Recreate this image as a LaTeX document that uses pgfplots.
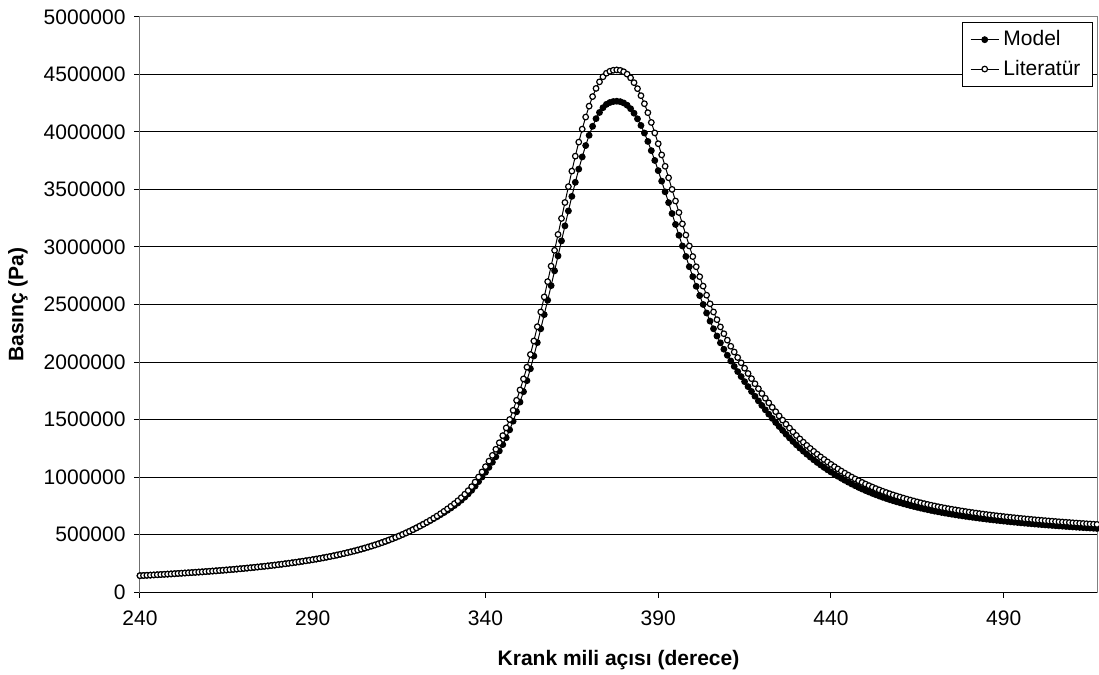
\documentclass[border=0pt]{standalone}
\usepackage{fontspec}
\setmainfont{Liberation Sans}
\usepackage{pgfplots}
\usepackage{pgfplotstable}
\pgfplotsset{compat=1.18}
\pgfplotstableread{
deg M L
240 142000 142000
241 143600 143600
242 145200 145200
243 146800 146800
244 148500 148500
245 150200 150200
246 151900 151900
247 153700 153700
248 155500 155500
249 157300 157300
250 159200 159200
251 161100 161100
252 163000 163000
253 165000 165000
254 167000 167000
255 169000 169000
256 171100 171100
257 173200 173200
258 175300 175300
259 177500 177500
260 179700 179700
261 182000 182000
262 184300 184300
263 186700 186700
264 189100 189100
265 191600 191600
266 194100 194100
267 196700 196700
268 199400 199400
269 202100 202100
270 204900 204900
271 207800 207800
272 210800 210800
273 213900 213900
274 217000 217000
275 220200 220200
276 223500 223500
277 226900 226900
278 230400 230400
279 234000 234000
280 237700 237700
281 241500 241500
282 245400 245400
283 249400 249400
284 253600 253600
285 257900 257900
286 262300 262300
287 266800 266800
288 271500 271500
289 276300 276300
290 281200 281200
291 286300 286300
292 291600 291600
293 297100 297100
294 302800 302800
295 308700 308700
296 314800 314800
297 321200 321200
298 327800 327800
299 334600 334600
300 341700 341700
301 349100 349100
302 356700 356700
303 364700 364700
304 372900 372900
305 381400 381400
306 390300 390300
307 399500 399500
308 409100 409100
309 419000 419000
310 429300 429300
311 440100 440100
312 451200 451200
313 462800 462800
314 474800 474800
315 487300 487300
316 500300 500300
317 513800 513800
318 527800 527800
319 542300 542300
320 557400 557400
321 573100 573100
322 589400 589400
323 604500 606300
324 620800 623900
325 637700 642200
326 654600 661200
327 672800 681000
328 691100 701600
329 710700 723000
330 730400 745300
331 751800 768700
332 773700 793500
333 798300 820500
334 824500 850000
335 853300 881500
336 883900 916000
337 920600 956000
338 960000 1000000
339 999600 1044000
340 1041000 1090000
341 1083900 1138000
342 1128600 1188000
343 1175800 1241000
344 1226600 1298000
345 1281800 1360000
346 1341400 1427000
347 1410000 1500000
348 1485200 1580000
349 1567000 1667000
350 1651600 1757000
351 1741800 1853000
352 1837700 1955000
353 1941100 2065000
354 2052000 2183000
355 2168600 2307000
356 2288900 2435000
357 2412000 2566000
358 2537100 2699000
359 2664000 2834000
360 2792700 2971000
361 2922500 3109000
362 3053100 3248000
363 3183800 3387000
364 3313500 3525000
365 3440400 3660000
366 3562600 3790000
367 3677300 3912000
368 3783500 4025000
369 3882200 4130000
370 3971500 4225000
371 4049500 4308000
372 4116300 4379000
373 4169800 4436000
374 4211200 4480000
375 4240300 4511000
376 4256300 4528000
377 4264800 4537000
378 4267600 4540000
379 4263800 4536000
380 4252600 4524000
381 4232800 4503000
382 4202700 4471000
383 4163300 4429000
384 4114400 4377000
385 4057000 4316000
386 3991200 4246000
387 3917900 4168000
388 3838000 4083000
389 3752500 3992000
390 3664100 3898000
391 3572900 3801000
392 3479900 3702000
393 3385900 3602000
394 3290900 3501000
395 3196000 3400000
396 3102000 3300000
397 3008900 3201000
398 2917800 3104000
399 2828500 3009000
400 2742000 2917000
401 2658300 2828000
402 2577500 2742000
403 2500400 2660000
404 2426100 2581000
405 2355600 2506000
406 2288900 2435000
407 2225900 2368000
408 2166700 2305000
409 2111200 2246000
410 2058600 2190000
411 2008800 2137000
412 1961800 2087000
413 1916700 2039000
414 1873400 1993000
415 1829200 1946000
416 1786000 1900000
417 1743700 1855000
418 1702300 1811000
419 1661900 1768000
420 1622400 1726000
421 1583900 1685000
422 1546300 1645000
423 1509600 1606000
424 1473900 1568000
425 1439100 1531000
426 1405300 1495000
427 1371800 1459400
428 1339800 1425300
429 1309000 1392600
430 1279600 1361300
431 1251400 1331300
432 1224400 1302500
433 1198400 1274900
434 1173500 1248400
435 1149600 1223000
436 1126700 1198600
437 1104700 1175200
438 1083500 1152700
439 1063100 1131000
440 1043400 1110000
441 1024400 1089800
442 1006200 1070400
443 988600 1051700
444 971600 1033600
445 955200 1016200
446 939400 999400
447 924300 983300
448 909700 967800
449 895700 952900
450 882400 938700
451 869600 925100
452 857300 912000
453 845500 899500
454 834300 887500
455 823400 876000
456 813100 865000
457 803100 854400
458 793500 844200
459 784400 834500
460 775700 825200
461 767200 816200
462 759100 807500
463 751200 799100
464 743500 791000
465 736200 783200
466 729200 775700
467 722300 768400
468 715700 761400
469 709300 754600
470 703200 748100
471 697400 741900
472 691700 735900
473 686300 730100
474 681100 724600
475 676100 719300
476 671300 714200
477 666600 709200
478 662000 704300
479 657600 699600
480 653300 695000
481 649200 690600
482 645000 686200
483 641100 682000
484 637200 677900
485 633600 674000
486 629900 670100
487 626400 666400
488 623000 662800
489 619700 659300
490 616500 655900
491 613400 652600
492 610300 649300
493 607300 646100
494 604400 643000
495 601600 640000
496 598800 637000
497 596100 634100
498 593400 631300
499 590800 628500
500 588300 625800
501 585800 623200
502 583400 620600
503 581000 618100
504 578800 615700
505 576500 613300
506 574200 610900
507 572100 608600
508 569900 606300
509 567900 604100
510 565800 601900
511 563700 599700
512 561700 597600
513 559900 595600
514 557900 593500
515 556100 591600
516 554200 589600
517 552400 587700
}\datatable
\begin{document}
\fontsize{10.5pt}{12.6pt}\selectfont
\begin{tikzpicture}
\begin{axis}[
  at={(0pt,0pt)}, anchor=south west,
  scale only axis, width=478.5pt, height=287.5pt,
  xmin=240, xmax=517, ymin=0, ymax=5000000,
  xtick={240,290,340,390,440,490},
  ytick={0,500000,1000000,1500000,2000000,2500000,3000000,3500000,4000000,4500000,5000000},
  scaled y ticks=false, scaled x ticks=false,
  /pgf/number format/.cd, fixed, precision=0, 1000 sep={}, assume math mode=true,
  /pgfplots/.cd,
  tick label style={font=\fontsize{10.5pt}{12.6pt}\selectfont},
  xticklabel style={yshift=-3pt},
  yticklabel style={xshift=-0.8pt},
  tick align=outside, xtick pos=bottom, ytick pos=left,
  major tick length=2.75pt,
  tick style={black, line width=0.5pt},
  ymajorgrids, grid style={black, line width=0.5pt},
  axis line style={draw=black!50, line width=0.5pt},
  xlabel={\bfseries Krank mili açısı (derece)},
  ylabel={\bfseries Basınç (Pa)},
  xlabel style={at={(axis description cs:0.5,-0.1183)}, anchor=center, font=\fontsize{10.5pt}{12.6pt}\selectfont},
  ylabel style={at={(axis description cs:-0.1275,0.5)}, anchor=center, font=\fontsize{10.5pt}{12.6pt}\selectfont},
  legend style={at={(rel axis cs:1,1)}, anchor=north east, xshift=-2pt, yshift=-2.5pt,
    draw=black, line width=0.5pt, fill=white, font=\fontsize{10.5pt}{12.6pt}\selectfont,
    inner xsep=4pt, inner ysep=2pt, row sep=1.5pt},
  legend cell align=left,
  legend image code/.code={\draw[mark repeat=2, mark phase=2] plot coordinates {(0cm,0cm) (0.25cm,0cm) (0.5cm,0cm)};},
]
\addplot[black, line width=0.5pt, mark=*, mark size=1.4pt, mark options={fill=black, draw=black, line width=0.6pt}] table[x=deg, y=M] {\datatable};
\addlegendentry{Model}
\addplot[black, line width=0.5pt, mark=*, mark size=1.4pt, mark options={fill=white, draw=black, line width=0.6pt}] table[x=deg, y=L] {\datatable};
\addlegendentry{Literatür}
\draw[black, line width=0.5pt] (rel axis cs:0,1) -- (rel axis cs:0,0) -- (rel axis cs:1,0);
\end{axis}
\pgfresetboundingbox
\path[use as bounding box] (-70pt,-41.5pt) rectangle (479.5pt,296pt);
\end{tikzpicture}
\end{document}
